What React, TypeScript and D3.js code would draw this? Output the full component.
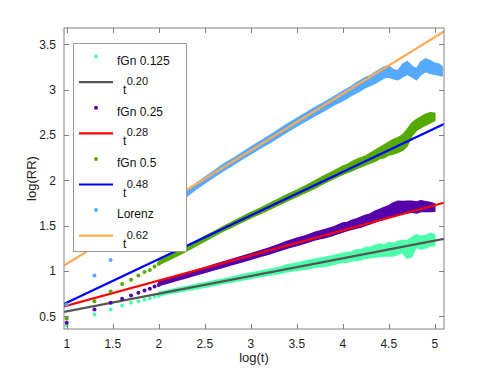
import { useEffect, useRef } from 'react';
import * as d3 from 'd3';

const xTicks = [1, 1.5, 2, 2.5, 3, 3.5, 4, 4.5, 5];
const yTicks = [0.5, 1, 1.5, 2, 2.5, 3, 3.5];
const xDomain = [0.97, 5.1];
const yDomain = [0.36, 3.68];

// log10(t) for t = 10, 20, ..., 100 (the separate dots at the left)
const earlyLogT = [1, 1.301, 1.477, 1.602, 1.699, 1.778, 1.845, 1.903, 1.954, 2];

const fgn125Early = [0.40, 0.52, 0.575, 0.62, 0.65, 0.665, 0.685, 0.70, 0.715, 0.725];
const fgn25Early = [0.43, 0.575, 0.65, 0.695, 0.73, 0.76, 0.785, 0.805, 0.83, 0.845];
const fgn5Early = [0.475, 0.665, 0.775, 0.857, 0.904, 0.95, 0.99, 1.01, 1.05, 1.08];
const lorenzEarly = [0.63, 0.95, 1.12, 1.24, 1.33, 1.41, 1.47, 1.52, 1.57, 1.60];

// dense part: [log(t), low, high] envelope of the scatter
const fgn125Band = [
  [2.0, 0.725, 0.765], [2.1, 0.748, 0.788], [2.2, 0.766, 0.81], [2.3, 0.784, 0.828],
  [2.4, 0.8, 0.85], [2.5, 0.82, 0.87], [2.6, 0.841, 0.891], [2.7, 0.861, 0.911],
  [2.8, 0.878, 0.934], [2.9, 0.898, 0.958], [3.0, 0.918, 0.978], [3.1, 0.936, 0.996],
  [3.2, 0.953, 1.017], [3.3, 0.97, 1.04], [3.4, 0.99, 1.07], [3.5, 1.008, 1.088],
  [3.6, 1.02, 1.11], [3.7, 1.041, 1.131], [3.8, 1.05, 1.15], [3.9, 1.07, 1.17],
  [4.0, 1.095, 1.195], [4.05, 1.095, 1.205], [4.1, 1.112, 1.212], [4.15, 1.115, 1.235],
  [4.2, 1.125, 1.235], [4.25, 1.14, 1.26], [4.3, 1.145, 1.265], [4.35, 1.15, 1.28],
  [4.4, 1.16, 1.3], [4.45, 1.165, 1.285], [4.5, 1.165, 1.315], [4.55, 1.165, 1.305],
  [4.6, 1.185, 1.325], [4.65, 1.2, 1.34], [4.7, 1.14, 1.33], [4.75, 1.16, 1.37],
  [4.8, 1.26, 1.4], [4.85, 1.24, 1.38], [4.9, 1.255, 1.395], [4.95, 1.275, 1.415],
  [5.0, 1.28, 1.4],
];

const fgn25Band = [
  [2.0, 0.84, 0.88], [2.1, 0.868, 0.912], [2.2, 0.897, 0.943], [2.3, 0.925, 0.975],
  [2.4, 0.955, 1.005], [2.5, 0.983, 1.037], [2.6, 1.012, 1.068], [2.7, 1.042, 1.098],
  [2.8, 1.07, 1.13], [2.9, 1.1, 1.16], [3.0, 1.13, 1.19], [3.1, 1.158, 1.222],
  [3.2, 1.187, 1.253], [3.3, 1.22, 1.29], [3.4, 1.252, 1.328], [3.5, 1.28, 1.36],
  [3.6, 1.31, 1.39], [3.7, 1.343, 1.427], [3.8, 1.365, 1.455], [3.9, 1.395, 1.485],
  [4.0, 1.43, 1.53], [4.05, 1.445, 1.535], [4.1, 1.46, 1.56], [4.15, 1.475, 1.575],
  [4.2, 1.485, 1.595], [4.25, 1.505, 1.615], [4.3, 1.52, 1.63], [4.35, 1.54, 1.66],
  [4.4, 1.56, 1.68], [4.45, 1.57, 1.70], [4.5, 1.59, 1.72], [4.55, 1.61, 1.75],
  [4.6, 1.62, 1.77], [4.65, 1.635, 1.765], [4.7, 1.64, 1.77], [4.75, 1.65, 1.77],
  [4.8, 1.64, 1.76], [4.85, 1.655, 1.775], [4.9, 1.655, 1.765], [4.95, 1.655, 1.755],
  [5.0, 1.66, 1.74],
];

const fgn5Band = [
  [2.0, 1.07, 1.11], [2.1, 1.118, 1.162], [2.2, 1.167, 1.213], [2.3, 1.22, 1.27],
  [2.4, 1.275, 1.325], [2.5, 1.33, 1.38], [2.6, 1.385, 1.435], [2.7, 1.44, 1.49],
  [2.8, 1.488, 1.542], [2.9, 1.537, 1.593], [3.0, 1.585, 1.645], [3.1, 1.63, 1.69],
  [3.2, 1.678, 1.742], [3.3, 1.727, 1.793], [3.4, 1.775, 1.845], [3.5, 1.82, 1.89],
  [3.6, 1.868, 1.942], [3.7, 1.915, 1.995], [3.8, 1.97, 2.05], [3.9, 2.02, 2.10],
  [4.0, 2.065, 2.155], [4.05, 2.085, 2.175], [4.1, 2.105, 2.205], [4.15, 2.13, 2.23],
  [4.2, 2.15, 2.25], [4.25, 2.17, 2.27], [4.3, 2.19, 2.30], [4.35, 2.21, 2.33],
  [4.4, 2.24, 2.36], [4.45, 2.25, 2.39], [4.5, 2.28, 2.42], [4.55, 2.29, 2.45],
  [4.6, 2.31, 2.47], [4.65, 2.33, 2.50], [4.7, 2.38, 2.56], [4.75, 2.49, 2.63],
  [4.8, 2.55, 2.67], [4.85, 2.58, 2.70], [4.9, 2.61, 2.73], [4.95, 2.635, 2.745],
  [5.0, 2.66, 2.74],
];

const lorenzBand = [
  [2.0, 1.59, 1.65], [2.1, 1.66, 1.72], [2.2, 1.74, 1.80], [2.3, 1.82, 1.88],
  [2.4, 1.9, 1.96], [2.5, 1.968, 2.032], [2.6, 2.038, 2.102], [2.7, 2.105, 2.175],
  [2.8, 2.165, 2.235], [2.9, 2.23, 2.30], [3.0, 2.293, 2.367], [3.1, 2.352, 2.428],
  [3.2, 2.41, 2.49], [3.3, 2.475, 2.555], [3.4, 2.538, 2.622], [3.5, 2.597, 2.683],
  [3.6, 2.655, 2.745], [3.7, 2.715, 2.805], [3.8, 2.77, 2.86], [3.9, 2.83, 2.92],
  [4.0, 2.88, 2.98], [4.05, 2.91, 3.01], [4.1, 2.94, 3.04], [4.15, 2.965, 3.075],
  [4.2, 2.995, 3.105], [4.25, 3.025, 3.135], [4.3, 3.045, 3.155], [4.35, 3.07, 3.19],
  [4.4, 3.10, 3.22], [4.45, 3.13, 3.25], [4.5, 3.14, 3.26], [4.55, 3.12, 3.22],
  [4.6, 3.11, 3.21], [4.65, 3.14, 3.28], [4.7, 3.17, 3.31], [4.75, 3.14, 3.26],
  [4.8, 3.11, 3.23], [4.85, 3.17, 3.31], [4.9, 3.20, 3.34], [4.95, 3.18, 3.32],
  [5.0, 3.17, 3.29], [5.05, 3.16, 3.28], [5.08, 3.15, 3.25],
];

// power-law fits: exponent label and log(RR) at the two ends of the x range
const fitLabels = ['0.20', '0.28', '0.48', '0.62'];
const fitEnds = [[0.549, 1.354], [0.609, 1.753], [0.635, 2.62], [1.061, 3.643]];

const dataLabels = ['fGn 0.125', 'fGn 0.25', 'fGn 0.5', 'Lorenz'];
const dataColors = ['#4dffaa', '#5500aa', '#55aa00', '#55aaff'];
const fitColors = ['#555555', '#ff0000', '#0000ff', '#ffaa55'];

const series = [
  { early: fgn125Early, band: fgn125Band },
  { early: fgn25Early, band: fgn25Band },
  { early: fgn5Early, band: fgn5Band },
  { early: lorenzEarly, band: lorenzBand },
];

const font = "'Liberation Sans', Arial, Helvetica, sans-serif";

export default function App() {
  const svgRef = useRef(null);

  useEffect(() => {
    if (!svgRef.current) return;
    const svg = d3.select(svgRef.current);
    svg.selectAll('*').remove();

    const left = 64, right = 444, top = 28, bottom = 329;
    const x = d3.scaleLinear().domain(xDomain).range([left, right]);
    const y = d3.scaleLinear().domain(yDomain).range([bottom, top]);

    svg.append('rect').attr('width', 491).attr('height', 370).attr('fill', 'white');

    const clip = svg.append('defs').append('clipPath').attr('id', 'plot-clip');
    clip.append('rect').attr('x', left).attr('y', top)
      .attr('width', right - left).attr('height', bottom - top);

    const plot = svg.append('g').attr('clip-path', 'url(#plot-clip)');

    const area = d3.area()
      .x(d => x(d[0]))
      .y0(d => y(d[1]))
      .y1(d => y(d[2]));

    const line = d3.line()
      .x(d => x(d[0]))
      .y(d => y(d[1]));

    series.forEach((s, i) => {
      // scatter: separate dots, then the dense band
      plot.selectAll(`.dot-${i}`)
        .data(s.early)
        .enter()
        .append('circle')
        .attr('class', `dot-${i}`)
        .attr('cx', (d, j) => x(earlyLogT[j]))
        .attr('cy', d => y(d))
        .attr('r', 2)
        .attr('fill', dataColors[i]);

      plot.append('path')
        .datum(s.band)
        .attr('d', area)
        .attr('fill', dataColors[i])
        .attr('stroke', dataColors[i])
        .attr('stroke-width', 1.5)
        .attr('stroke-linejoin', 'round');

      // fitted power law
      plot.append('path')
        .datum([[xDomain[0], fitEnds[i][0]], [xDomain[1], fitEnds[i][1]]])
        .attr('d', line)
        .attr('fill', 'none')
        .attr('stroke', fitColors[i])
        .attr('stroke-width', 2.2);
    });

    // axes box with inward ticks on all sides
    const axisColor = '#808080';
    const tick = 5;
    svg.append('rect')
      .attr('x', left).attr('y', top)
      .attr('width', right - left).attr('height', bottom - top)
      .attr('fill', 'none').attr('stroke', axisColor).attr('stroke-width', 1);

    xTicks.forEach(v => {
      const px = Math.round(x(v)) + 0.5;
      svg.append('line').attr('x1', px).attr('x2', px).attr('y1', bottom).attr('y2', bottom - tick)
        .attr('stroke', axisColor);
      svg.append('line').attr('x1', px).attr('x2', px).attr('y1', top).attr('y2', top + tick)
        .attr('stroke', axisColor);
      svg.append('text')
        .attr('x', x(v)).attr('y', 347.5)
        .attr('text-anchor', 'middle')
        .style('font-family', font).style('font-size', '12px').attr('fill', '#222')
        .text(String(v));
    });

    yTicks.forEach(v => {
      const py = Math.round(y(v)) + 0.5;
      svg.append('line').attr('x1', left).attr('x2', left + tick).attr('y1', py).attr('y2', py)
        .attr('stroke', axisColor);
      svg.append('line').attr('x1', right).attr('x2', right - tick).attr('y1', py).attr('y2', py)
        .attr('stroke', axisColor);
      svg.append('text')
        .attr('x', 56).attr('y', y(v) + 4.3)
        .attr('text-anchor', 'end')
        .style('font-family', font).style('font-size', '12px').attr('fill', '#222')
        .text(String(v));
    });

    svg.append('text')
      .attr('x', (left + right) / 2).attr('y', 362)
      .attr('text-anchor', 'middle')
      .style('font-family', font).style('font-size', '13px').attr('fill', '#222')
      .text('log(t)');

    svg.append('text')
      .attr('transform', `translate(36, ${(top + bottom) / 2}) rotate(-90)`)
      .attr('text-anchor', 'middle')
      .style('font-family', font).style('font-size', '13px').attr('fill', '#222')
      .text('log(RR)');

    // legend
    const legend = svg.append('g');
    legend.append('rect')
      .attr('x', 73.5).attr('y', 43.5).attr('width', 113).attr('height', 208)
      .attr('fill', 'white').attr('stroke', '#999').attr('stroke-width', 1);

    const rowY = i => 56.5 + i * 25.6;
    dataLabels.forEach((label, i) => {
      const cy = rowY(i * 2);
      legend.append('circle').attr('cx', 96).attr('cy', cy).attr('r', 2).attr('fill', dataColors[i]);
      legend.append('text')
        .attr('x', 117).attr('y', cy + 8)
        .style('font-family', font).style('font-size', '12px').attr('fill', '#111')
        .text(label);

      const ly = rowY(i * 2 + 1);
      legend.append('line')
        .attr('x1', 79).attr('x2', 113).attr('y1', ly).attr('y2', ly)
        .attr('stroke', fitColors[i]).attr('stroke-width', 2.2);
      legend.append('text')
        .attr('x', 123).attr('y', ly + 12)
        .style('font-family', font).style('font-size', '12px').attr('fill', '#111')
        .text('t');
      legend.append('text')
        .attr('x', 126.7).attr('y', ly + 3)
        .style('font-family', font).style('font-size', '11px').attr('fill', '#111')
        .text(fitLabels[i]);
    });
  }, []);

  return (
    <svg
      ref={svgRef}
      width={491}
      height={370}
      style={{ position: 'absolute', left: 0, top: 0 }}
    />
  );
}
